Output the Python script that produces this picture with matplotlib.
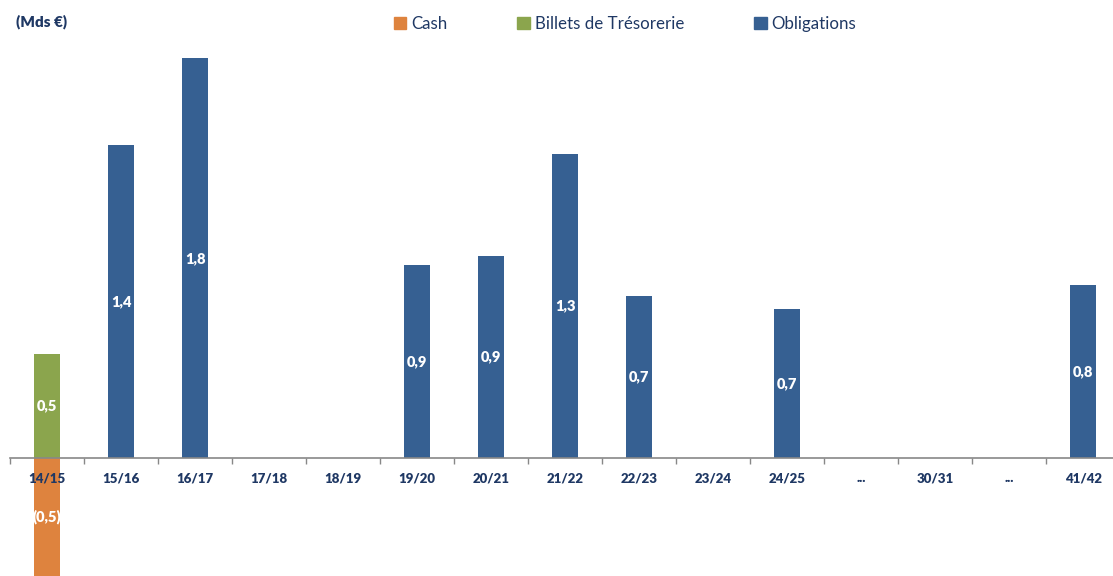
import matplotlib
matplotlib.use("Agg")
import matplotlib.pyplot as plt
from matplotlib.patches import Patch
import numpy as np

plt.rcParams['font.family'] = ['Lato', 'DejaVu Sans']

categories = ["14/15", "15/16", "16/17", "17/18", "18/19", "19/20", "20/21", "21/22",
              "22/23", "23/24", "24/25", "...", "30/31", "...", "41/42"]
cash = [-0.53, 0, 0, 0, 0, 0, 0, 0, 0, 0, 0, 0, 0, 0, 0]
billets = [0.47, 0, 0, 0, 0, 0, 0, 0, 0, 0, 0, 0, 0, 0, 0]
obligations = [0, 1.41, 1.80, 0, 0, 0.87, 0.91, 1.37, 0.73, 0, 0.67, 0, 0, 0, 0.78]
cash_labels = ["(0,5)", "", "", "", "", "", "", "", "", "", "", "", "", "", ""]
billets_labels = ["0,5", "", "", "", "", "", "", "", "", "", "", "", "", "", ""]
oblig_labels = ["", "1,4", "1,8", "", "", "0,9", "0,9", "1,3", "0,7", "", "0,7", "", "", "", "0,8"]

c_cash = "#DE833E"
c_bill = "#8BA54D"
c_obl = "#366092"
navy = "#1F3864"

W, H = 1113, 576
fig = plt.figure(figsize=(W / 100, H / 100), dpi=100)
ax = fig.add_axes([10 / W, 0, 1 - 10 / W, 1])
ax.set_axisbelow(False)
x = np.arange(len(categories))
bw = 0.35

b1 = ax.bar(x, cash, bw, color=c_cash, edgecolor="none", zorder=1)
b2 = ax.bar(x, billets, bw, color=c_bill, edgecolor="none", zorder=1)
b3 = ax.bar(x, obligations, bw, color=c_obl, edgecolor="none", zorder=1)

for bars, labels in ((b1, cash_labels), (b2, billets_labels), (b3, oblig_labels)):
    ax.bar_label(bars, labels=labels, label_type="center", color="white",
                 fontsize=10.5, fontweight="heavy", zorder=4)

ax.set_xlim(-0.5, 14.4)
ax.set_ylim(-0.53, 458 / 222)

for s in ("top", "right", "left"):
    ax.spines[s].set_visible(False)
ax.spines["bottom"].set_position(("data", 0))
ax.spines["bottom"].set_color("#888888")
ax.spines["bottom"].set_linewidth(1.2)
ax.set_yticks([])
ax.set_xticks(x)
ax.set_xticklabels(categories, fontsize=9.5, fontweight="heavy", color=navy)
ax.set_xticks(np.arange(-0.5, 14.5, 1), minor=True)
ax.tick_params(axis="x", which="major", length=0, pad=10)
ax.tick_params(axis="x", which="minor", length=4, color="#888888", width=1)

fig.text(16 / W, 1 - 22 / H, "(Mds €)", fontsize=11, fontweight="heavy", color=navy,
         ha="left", va="center")

handles = [Patch(color=c_cash, label="Cash"),
           Patch(color=c_bill, label="Billets de Trésorerie"),
           Patch(color=c_obl, label="Obligations")]
leg = fig.legend(handles=handles, loc="center", bbox_to_anchor=(625 / W, 1 - 24 / H),
                 ncol=3, frameon=False, fontsize=12.2, handlelength=0.75, handleheight=0.75,
                 handletextpad=0.3, columnspacing=4.1)
for t in leg.get_texts():
    t.set_color(navy)

fig.savefig("out.png", dpi=100)
